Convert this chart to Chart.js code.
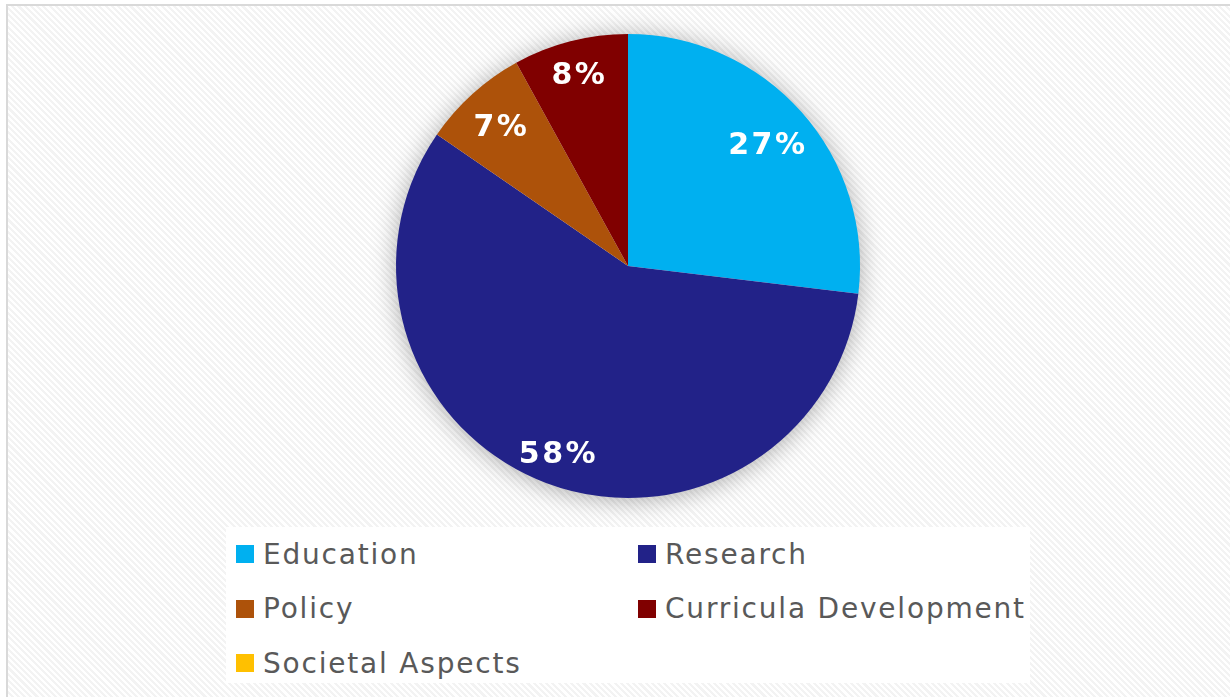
<!DOCTYPE html>
<html>
<head>
<meta charset="utf-8">
<script src="https://cdn.jsdelivr.net/npm/chart.js@4.4.1/dist/chart.umd.min.js"></script>
<style>
  html, body { margin: 0; padding: 0; width: 1230px; height: 697px; overflow: hidden; background: #fff; }
  #frame {
    position: absolute; left: 6px; top: 4px; width: 1240px; height: 720px;
    border: 2px solid #d9d9d9; box-sizing: border-box;
    background: repeating-linear-gradient(45deg, #ffffff 0px, #ffffff 2.2px, #f3f3f3 2.2px, #f3f3f3 4.4px);
  }
  #legend {
    position: absolute; left: 226px; top: 527px; width: 804px; height: 156px;
    background: #fff; box-sizing: border-box; padding-left: 10px;
    display: grid; grid-template-columns: 402px 392px; grid-auto-rows: 54.5px;
    font-family: "DejaVu Sans", Verdana, sans-serif; font-size: 28px; color: #595959;
    letter-spacing: 1.8px;
  }
  .item { display: flex; align-items: center; white-space: nowrap; }
  .box { width: 18px; height: 18px; margin-right: 9px; flex: none; }
  #pie { position: absolute; left: 0; top: 0; }
</style>
</head>
<body>
<div id="frame"></div>
<div id="legend"></div>
<canvas id="pie" width="1230" height="697"></canvas>
<script>
const categories = ["Education", "Research", "Policy", "Curricula Development", "Societal Aspects"];
const shares = [26.9, 57.7, 7.4, 8.0, 0];
const colors = ["#00b0f0", "#222288", "#ad520a", "#800000", "#ffc000"];

// label distance from centre, as a fraction of the radius (Excel best fit)
const labelRadius = [0.80, 0.86, 0.82, 0.86, 0.8];

const legendBox = document.getElementById("legend");
categories.forEach((name, i) => {
  const item = document.createElement("div");
  item.className = "item";
  item.innerHTML = `<span class="box" style="background:${colors[i]}"></span><span>${name}</span>`;
  legendBox.appendChild(item);
});

const pieShadow = {
  id: "pieShadow",
  beforeDatasetsDraw(chart) {
    const arc = chart.getDatasetMeta(0).data[0];
    if (!arc) return;
    const { x, y, outerRadius } = arc.getProps(["x", "y", "outerRadius"], true);
    const ctx = chart.ctx;
    ctx.save();
    ctx.shadowColor = "rgba(0,0,0,0.35)";
    ctx.shadowBlur = 26;
    ctx.shadowOffsetX = 0;
    ctx.shadowOffsetY = 2;
    ctx.fillStyle = "#ffffff";
    ctx.beginPath();
    ctx.arc(x, y, outerRadius - 1, 0, Math.PI * 2);
    ctx.fill();
    ctx.restore();
  }
};

const pctLabels = {
  id: "pctLabels",
  afterDatasetsDraw(chart) {
    const ctx = chart.ctx;
    const total = shares.reduce((a, b) => a + b, 0);
    ctx.save();
    ctx.font = 'bold 30px "DejaVu Sans", Verdana, sans-serif';
    ctx.letterSpacing = "2.5px";
    ctx.fillStyle = "#ffffff";
    ctx.textAlign = "center";
    ctx.textBaseline = "middle";
    chart.getDatasetMeta(0).data.forEach((arc, i) => {
      if (!shares[i]) return;
      const p = arc.getProps(["x", "y", "startAngle", "endAngle", "outerRadius"], true);
      const mid = (p.startAngle + p.endAngle) / 2;
      const r = p.outerRadius * labelRadius[i];
      ctx.fillText(Math.round(shares[i] / total * 100) + "%", p.x + Math.cos(mid) * r + 1, p.y + Math.sin(mid) * r + 3);
    });
    ctx.restore();
  }
};

new Chart(document.getElementById("pie"), {
  type: "pie",
  data: {
    labels: categories,
    datasets: [{
      data: shares,
      backgroundColor: colors,
      borderWidth: 0
    }]
  },
  options: {
    responsive: false,
    animation: false,
    devicePixelRatio: 1,
    layout: { padding: { top: 34, bottom: 199, left: 396, right: 370 } },
    plugins: {
      legend: { display: false },
      tooltip: { enabled: false }
    }
  },
  plugins: [pieShadow, pctLabels]
});
</script>
</body>
</html>
